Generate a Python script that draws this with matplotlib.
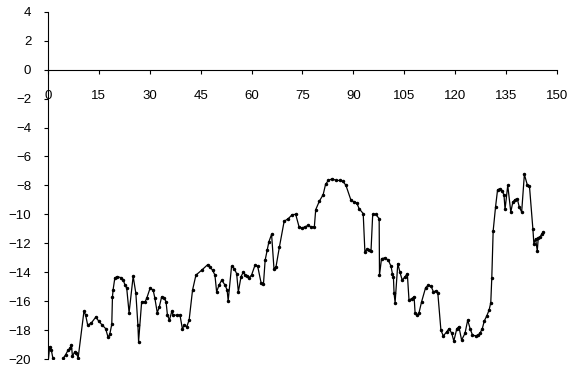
import matplotlib
matplotlib.use("Agg")
import matplotlib.pyplot as plt

# values (x, y)
x_vals = [0.0, 0.5, 1.0, 1.4, 2.5, 3.6, 4.5, 5.2, 5.9, 6.5, 6.9, 7.2, 7.9, 8.3, 8.9,
          10.6, 11.1, 11.7, 12.8, 14.1, 15.0, 16.0, 17.0, 17.7, 18.2, 18.8, 19.0, 19.2,
          19.7, 20.4, 21.4, 22.2, 22.7, 23.2, 23.9, 25.1, 25.9, 26.5, 26.7, 27.6, 28.6,
          29.1, 30.1, 31.0, 31.5, 32.2, 32.8, 33.5, 34.3, 34.8, 35.2, 35.8, 36.5, 36.9,
          37.9, 38.9, 39.6, 40.2, 40.9, 41.6, 42.6, 43.6, 45.3, 47.1, 47.7, 48.5, 49.2,
          49.7, 50.4, 51.2, 52.2, 52.8, 53.1, 54.1, 54.9, 55.6, 56.1, 56.9, 57.6, 58.1,
          58.6, 59.3, 60.0, 61.0, 61.8, 62.8, 63.5, 64.0, 64.6, 65.1, 65.9, 66.6, 67.2,
          68.2, 69.6, 70.8, 72.0, 73.0, 74.0, 74.8, 75.7, 76.7, 77.5, 78.5, 78.9, 80.0,
          81.1, 81.8, 82.6, 83.8, 84.9, 86.1, 86.9, 87.8, 89.3, 90.3, 91.0, 91.7, 92.9,
          93.4, 93.9, 94.7, 95.2, 95.7, 96.6, 97.6, 97.7, 98.3, 99.3, 100.3, 101.1, 101.5,
          101.8, 102.0, 102.3, 103.1, 103.7, 104.4, 105.2, 105.9, 106.4, 107.2, 107.9,
          108.2, 108.7, 109.3, 110.1, 111.3, 112.1, 112.9, 113.6, 114.3, 114.9, 115.8,
          116.5, 117.5, 118.2, 119.0, 119.6, 120.5, 121.1, 121.9, 122.9, 123.7, 124.4,
          125.1, 126.1, 126.8, 127.3, 128.0, 128.6, 129.3, 130.0, 130.5, 130.8, 131.2,
          131.9, 132.5, 133.2, 133.9, 134.4, 134.7, 135.5, 136.4, 137.0, 137.6, 138.3,
          138.9, 139.6, 140.4, 141.3, 141.9, 142.9, 143.2, 143.7, 144.2, 144.5, 145.0,
          145.5, 146.0]
y_vals = [-20.3, -19.15, -19.4, -19.9, -20.8, -20.6, -19.95, -19.7, -19.4, -19.26, -19.0,
          -19.8, -19.5, -19.6, -19.9,
          -16.7, -16.97, -17.66, -17.5, -17.1, -17.4, -17.66, -17.9, -18.5, -18.3, -17.6,
          -15.7, -15.2, -14.4, -14.3, -14.37, -14.55, -14.9, -15.1, -16.8, -14.28, -15.47,
          -17.66, -18.8, -16.05, -16.05, -15.8, -15.1, -15.24, -15.8, -16.8, -16.4, -15.7,
          -15.8, -16.05, -16.97, -17.3, -16.7, -16.97, -16.97, -16.97, -17.9, -17.66,
          -17.77, -17.3, -15.24, -14.2, -13.86, -13.47, -13.63, -13.86, -14.2, -15.36,
          -14.9, -14.55, -14.9, -15.24, -15.98, -13.59, -13.75, -14.1, -15.36, -14.3,
          -13.98, -14.2, -14.28, -14.37, -14.2, -13.52, -13.59, -14.73, -14.83, -13.17,
          -12.48, -11.9, -11.38, -13.75, -13.63, -12.26, -10.48, -10.3, -10.02, -10.0,
          -10.87, -10.94, -10.87, -10.76, -10.87, -10.87, -9.68, -9.08, -8.64, -7.93,
          -7.66, -7.54, -7.66, -7.66, -7.72, -7.99, -9.03, -9.15, -9.22, -9.61, -9.95,
          -12.6, -12.43, -12.48, -12.53, -10.0, -10.0, -10.3, -14.2, -13.06, -13.01,
          -13.17, -13.59, -14.1, -14.32, -15.47, -16.1, -13.4, -13.98, -14.55, -14.32,
          -14.1, -15.93, -15.82, -15.7, -16.85, -16.97, -16.85, -16.05, -15.06, -14.9,
          -14.97, -15.36, -15.29, -15.47, -18.0, -18.41, -18.12, -17.9, -18.23, -18.76,
          -17.9, -17.77, -18.69, -18.23, -17.31, -17.9, -18.34, -18.41, -18.34, -18.23,
          -17.9, -17.36, -17.03, -16.62, -16.1, -14.37, -11.15, -9.5, -8.3, -8.23, -8.39,
          -8.69, -9.66, -8.0, -9.84, -9.15, -8.99, -8.92, -9.5, -9.84, -7.24, -8.0,
          -8.05, -10.99, -12.02, -11.68, -12.53, -11.61, -11.56, -11.38, -11.22]

x_ticks = list(range(0, 151, 15))
y_ticks = list(range(-20, 5, 2))

plt.rcParams['font.family'] = ['Liberation Sans', 'DejaVu Sans']

fig = plt.figure(figsize=(5.81, 3.69), dpi=100)
ax = fig.add_axes([0.0826, 0.0271, 0.876, 0.941])

ax.plot(x_vals, y_vals, color='black', linewidth=0.9,
        marker='o', markersize=1.5)

ax.set_xlim(0, 150)
ax.set_ylim(-20, 4)
ax.set_xticks(x_ticks)
ax.set_yticks(y_ticks)

# Excel style: x axis crosses at y=0
ax.spines['bottom'].set_position(('data', 0))
ax.spines['top'].set_visible(False)
ax.spines['right'].set_visible(False)
for s in ('left', 'bottom'):
    ax.spines[s].set_color('black')
    ax.spines[s].set_linewidth(0.8)

ax.tick_params(axis='x', direction='out', length=3, width=0.8, pad=12, labelsize=9.5)
ax.tick_params(axis='y', direction='out', length=3, width=0.8, pad=9, labelsize=9.5)

fig.savefig('out.png', dpi=100)
